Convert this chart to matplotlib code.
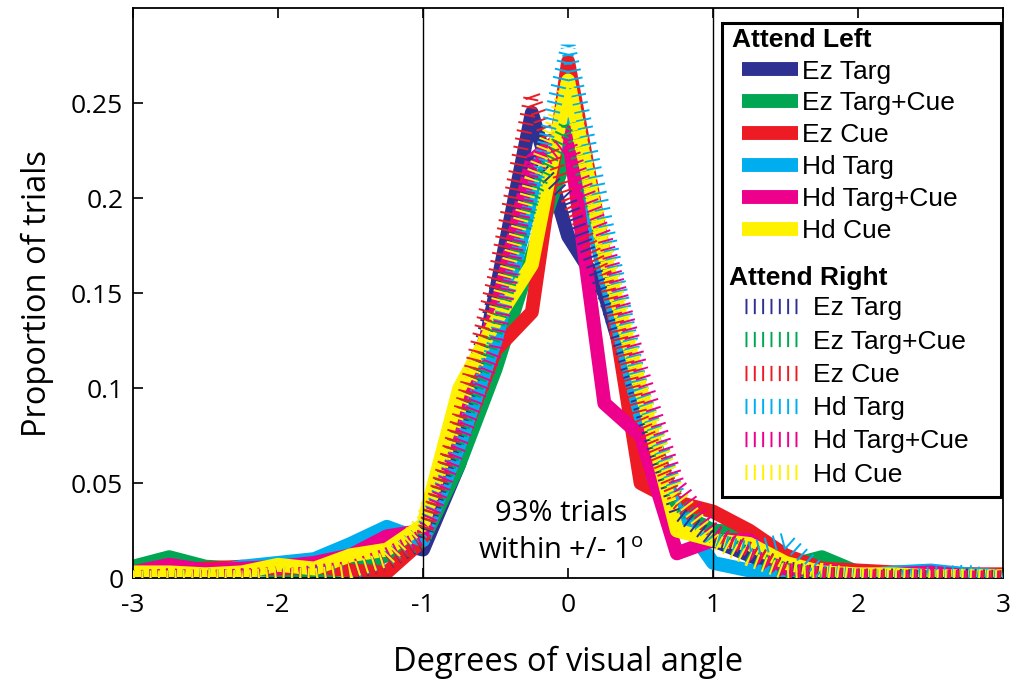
import matplotlib
matplotlib.use('Agg')
import matplotlib.pyplot as plt
from matplotlib.patches import Rectangle

plt.rcParams['font.family'] = ['Open Sans', 'DejaVu Sans']
plt.rcParams['mathtext.default'] = 'regular'
plt.rcParams['lines.scale_dashes'] = False

# bin centres (degrees of visual angle)
x_bins = [-3, -2.75, -2.5, -2.25, -2, -1.75, -1.5, -1.25, -1, -0.75, -0.5, -0.25,
          0, 0.25, 0.5, 0.75, 1, 1.25, 1.5, 1.75, 2, 2.25, 2.5, 2.75, 3]

labels = ['Ez Targ', 'Ez Targ+Cue', 'Ez Cue', 'Hd Targ', 'Hd Targ+Cue', 'Hd Cue']
colors = ['#2e3192', '#00a651', '#ed1c24', '#00aeef', '#ec008c', '#fff200']

# attend left
ez_targ_L = [0.003, 0.005, 0.003, 0.004, 0.006, 0.004, 0.008, 0.020, 0.015, 0.060, 0.150, 0.245, 0.180,
             0.150, 0.085, 0.035, 0.020, 0.012, 0.004, 0.002, 0.001, 0.002, 0.001, 0.000, 0.000]
ez_tc_L = [0.006, 0.011, 0.006, 0.005, 0.004, 0.003, 0.005, 0.012, 0.020, 0.060, 0.110, 0.170, 0.225,
           0.170, 0.095, 0.035, 0.025, 0.024, 0.006, 0.011, 0.003, 0.002, 0.003, 0.002, 0.001]
ez_cue_L = [0.002, 0.004, 0.005, 0.006, 0.005, 0.006, 0.004, 0.003, 0.020, 0.070, 0.120, 0.140, 0.272,
            0.170, 0.050, 0.040, 0.035, 0.025, 0.012, 0.005, 0.004, 0.003, 0.003, 0.002, 0.002]
hd_targ_L = [0.002, 0.003, 0.002, 0.006, 0.008, 0.010, 0.018, 0.027, 0.020, 0.070, 0.125, 0.200, 0.240,
             0.160, 0.085, 0.035, 0.008, 0.004, 0.002, 0.001, 0.001, 0.003, 0.004, 0.002, 0.001]
hd_tc_L = [0.003, 0.007, 0.004, 0.005, 0.006, 0.008, 0.012, 0.022, 0.025, 0.090, 0.140, 0.220, 0.235,
           0.092, 0.075, 0.013, 0.020, 0.020, 0.005, 0.004, 0.002, 0.002, 0.003, 0.001, 0.001]
hd_cue_L = [0.003, 0.003, 0.002, 0.003, 0.007, 0.005, 0.012, 0.015, 0.028, 0.100, 0.135, 0.165, 0.262,
            0.170, 0.100, 0.025, 0.020, 0.018, 0.008, 0.003, 0.002, 0.002, 0.001, 0.001, 0.001]

# attend right
ez_targ_R = [0.000, 0.001, 0.000, 0.001, 0.000, 0.002, 0.003, 0.008, 0.020, 0.080, 0.150, 0.220, 0.200,
             0.150, 0.090, 0.035, 0.020, 0.015, 0.005, 0.002, 0.001, 0.001, 0.000, 0.001, 0.000]
ez_tc_R = [0.000, 0.000, 0.001, 0.000, 0.001, 0.002, 0.004, 0.010, 0.020, 0.075, 0.130, 0.200, 0.240,
           0.175, 0.100, 0.040, 0.022, 0.012, 0.004, 0.001, 0.000, 0.001, 0.000, 0.000, 0.000]
ez_cue_R = [0.000, 0.001, 0.000, 0.001, 0.002, 0.001, 0.004, 0.008, 0.022, 0.085, 0.160, 0.255, 0.200,
            0.160, 0.085, 0.040, 0.025, 0.015, 0.004, 0.002, 0.001, 0.000, 0.001, 0.000, 0.000]
hd_targ_R = [0.000, 0.000, 0.001, 0.000, 0.001, 0.002, 0.003, 0.010, 0.025, 0.070, 0.125, 0.200, 0.280,
             0.190, 0.100, 0.045, 0.020, 0.015, 0.020, 0.003, 0.001, 0.000, 0.002, 0.003, 0.000]
hd_tc_R = [0.000, 0.001, 0.000, 0.001, 0.000, 0.003, 0.005, 0.012, 0.022, 0.070, 0.120, 0.215, 0.230,
           0.180, 0.110, 0.050, 0.025, 0.012, 0.004, 0.002, 0.001, 0.000, 0.001, 0.000, 0.000]
hd_cue_R = [0.000, 0.000, 0.001, 0.000, 0.002, 0.001, 0.004, 0.010, 0.030, 0.090, 0.140, 0.210, 0.260,
            0.175, 0.100, 0.045, 0.020, 0.010, 0.003, 0.004, 0.001, 0.001, 0.000, 0.001, 0.000]

left_series = [ez_targ_L, ez_tc_L, ez_cue_L, hd_targ_L, hd_tc_L, hd_cue_L]
right_series = [ez_targ_R, ez_tc_R, ez_cue_R, hd_targ_R, hd_tc_R, hd_cue_R]

fig = plt.figure(figsize=(10.13, 6.89), dpi=100)
ax = fig.add_axes([0.1313, 0.161, 0.859, 0.827])

left_handles = []
for ys, c, lab in zip(left_series, colors, labels):
    h, = ax.plot(x_bins, ys, color=c, lw=10, solid_joinstyle='round',
                 solid_capstyle='butt', label=lab, zorder=2)
    left_handles.append(h)

right_handles = []
for ys, c, lab in zip(right_series, colors, labels):
    h, = ax.plot(x_bins, ys, color=c, lw=11, linestyle=(0, (1.4, 4.6)),
                 dash_capstyle='butt', dash_joinstyle='bevel', label=lab, zorder=3)
    right_handles.append(h)

ax.axvline(-1, color='k', lw=1, zorder=4)
ax.axvline(1, color='k', lw=1, zorder=4)

ax.text(-0.05, 0.034, '93% trials', ha='center', va='center', fontsize=21, zorder=5)
ax.text(-0.05, 0.014, 'within +/- 1$^{o}$', ha='center', va='center', fontsize=21, zorder=5)

ax.set_xlim(-3, 3)
ax.set_ylim(0, 0.3)
ax.set_xticks([-3, -2, -1, 0, 1, 2, 3])
ax.set_xticklabels(['-3', '-2', '-1', '0', '1', '2', '3'])
ax.set_yticks([0, 0.05, 0.1, 0.15, 0.2, 0.25])
ax.set_yticklabels(['0', '0.05', '0.1', '0.15', '0.2', '0.25'])
ax.tick_params(direction='in', length=7, width=1.2, labelsize=19, top=True, right=True)
ax.tick_params(axis='x', pad=11)
ax.tick_params(axis='y', pad=7)
for s in ax.spines.values():
    s.set_linewidth(1.3)

ax.set_xlabel('Degrees of visual angle', fontsize=23.5, labelpad=20)
ax.set_ylabel('Proportion of trials', fontsize=23.5, labelpad=12)

# legend frame and group titles
ax.add_patch(Rectangle((0.677, 0.142), 0.32, 0.833, transform=ax.transAxes,
                       facecolor='white', edgecolor='k', lw=2.2, zorder=6))

legend_font = {'family': ['Liberation Sans', 'DejaVu Sans'], 'size': 19}
ax.text(0.688, 0.944, 'Attend Left', transform=ax.transAxes, ha='left', va='center',
        fontsize=19, fontweight='bold', family=['Liberation Sans', 'DejaVu Sans'], zorder=7)
ax.text(0.685, 0.526, 'Attend Right', transform=ax.transAxes, ha='left', va='center',
        fontsize=19, fontweight='bold', family=['Liberation Sans', 'DejaVu Sans'], zorder=7)

leg1 = ax.legend(handles=left_handles, loc='upper left', bbox_to_anchor=(0.6942, 0.9193),
                 prop=legend_font, frameon=False, handlelength=2.1, handletextpad=0.15,
                 labelspacing=0.3, borderpad=0.2, borderaxespad=0)
leg1.set_zorder(7)
ax.add_artist(leg1)

leg2 = ax.legend(handles=right_handles, loc='upper left', bbox_to_anchor=(0.6977, 0.5035),
                 prop=legend_font, frameon=False, handlelength=2.1, handletextpad=0.45,
                 labelspacing=0.35, borderpad=0.2, borderaxespad=0)
leg2.set_zorder(7)

fig.savefig('out.png', dpi=100)
